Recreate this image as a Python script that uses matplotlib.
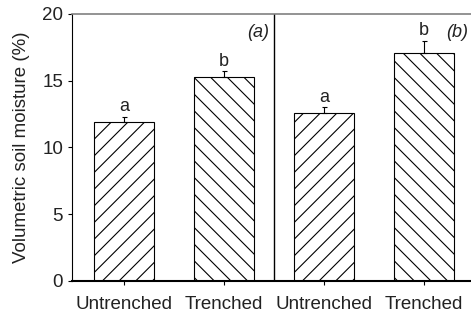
import matplotlib.pyplot as plt
import numpy as np

plt.rcParams['font.family'] = ['Liberation Sans', 'DejaVu Sans']
plt.rcParams['hatch.linewidth'] = 0.8

categories = ['Untrenched', 'Trenched', 'Untrenched', 'Trenched']
moisture = [11.9, 15.3, 12.6, 17.1]
errors = [0.4, 0.4, 0.4, 0.9]
letters = ['a', 'b', 'a', 'b']
hatches = ['//', '\\\\', '//', '\\\\']
panels = ['(a)', '(b)']

fig = plt.figure(figsize=(4.71, 3.16), dpi=100)
ax = fig.add_axes([0.153, 0.111, 0.847, 0.845])

x = np.arange(len(categories))
for i in range(len(x)):
    ax.bar(x[i], moisture[i], width=0.6, color='white', edgecolor='black',
           linewidth=0.8, hatch=hatches[i], zorder=2)
    ax.errorbar(x[i], moisture[i], yerr=[[0], [errors[i]]], fmt='none',
                ecolor='black', elinewidth=0.8, capsize=1.8, capthick=0.8, zorder=3)
    ax.text(x[i], moisture[i] + errors[i] + 0.1, letters[i], ha='center',
            va='bottom', fontsize=13, color='#222222')

ax.axvline(1.5, color='black', linewidth=1.0)
ax.text(1.45, 18.6, panels[0], ha='right', va='center', fontsize=13,
        style='italic', color='#222222')
ax.text(3.44, 18.6, panels[1], ha='right', va='center', fontsize=13,
        style='italic', color='#222222')

ax.set_xlim(-0.52, 3.47)
ax.set_ylim(0, 20)
ax.set_yticks([0, 5, 10, 15, 20])
ax.set_xticks(x)
ax.set_xticklabels(categories)
ax.tick_params(axis='both', labelsize=13.5, labelcolor='#222222', direction='out',
               length=3, width=0.8)
ax.tick_params(axis='x', pad=8)
ax.set_ylabel('Volumetric soil moisture (%)', fontsize=13.5, color='#222222',
              labelpad=9)

ax.spines['right'].set_visible(False)
ax.spines['top'].set_color('#808080')
ax.spines['top'].set_linewidth(1.2)
ax.spines['bottom'].set_linewidth(1.5)
ax.spines['left'].set_linewidth(0.8)

fig.savefig('out.png', dpi=100)
